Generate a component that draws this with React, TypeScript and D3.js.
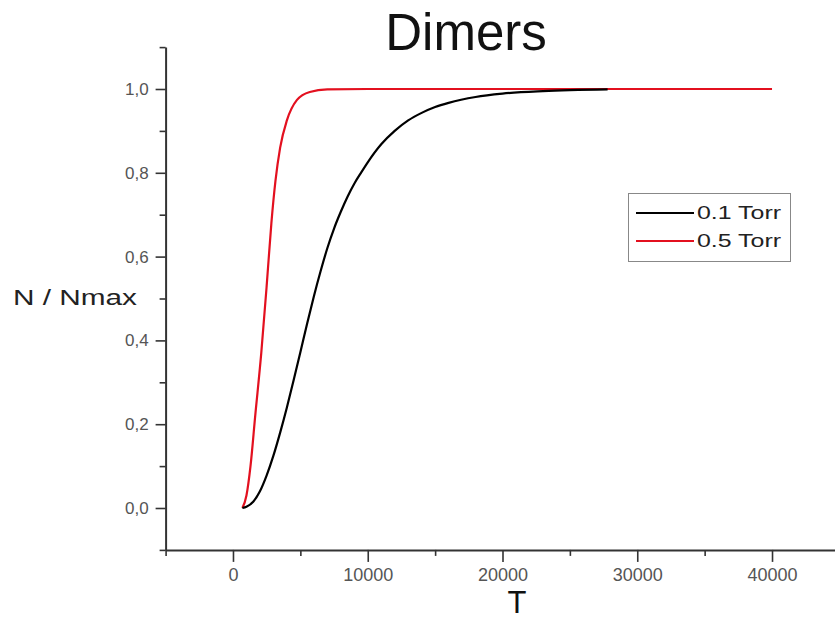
import React, { useEffect, useRef } from 'react';
import * as d3 from 'd3';

// 0.1 Torr series (black)
const t01 = [700, 1000, 1500, 2000, 2500, 3000, 3500, 4000, 4500, 5000, 5500, 6000, 6500, 7000, 7500, 8000, 8500, 9000, 9500, 10000, 11000, 12000, 13000, 14000, 15000, 16000, 18000, 20000, 23000, 27800];
const v01 = [0, 0.003, 0.015, 0.04, 0.078, 0.125, 0.18, 0.24, 0.305, 0.372, 0.44, 0.505, 0.565, 0.62, 0.667, 0.707, 0.743, 0.774, 0.8, 0.825, 0.868, 0.9, 0.925, 0.943, 0.957, 0.967, 0.981, 0.989, 0.995, 0.999];

// 0.5 Torr series (red)
const t05 = [700, 1000, 1300, 1650, 2100, 2500, 2850, 3150, 3500, 4000, 4750, 5700, 7000, 10000, 20000, 30000, 40000];
const v05 = [0, 0.03, 0.1, 0.22, 0.37, 0.53, 0.68, 0.78, 0.86, 0.925, 0.974, 0.993, 0.999, 1, 1, 1, 1];

const seriesNames = ['0.1 Torr', '0.5 Torr'];
const seriesColors = ['#000000', '#e3101f'];

const xMajor = [0, 10000, 20000, 30000, 40000];
const xMinor = [-5000, 5000, 15000, 25000, 35000];
const yMajor = [0, 0.2, 0.4, 0.6, 0.8, 1.0];
const yMinor = [-0.1, 0.1, 0.3, 0.5, 0.7, 0.9, 1.1];

const W = 835;
const H = 619;
const FONT = '"Liberation Sans", Arial, sans-serif';

export default function App() {
  const svgRef = useRef<SVGSVGElement>(null);

  useEffect(() => {
    if (!svgRef.current) return;
    const svg = d3.select(svgRef.current);
    svg.selectAll('*').remove();

    const x = d3.scaleLinear().domain([-5000, 45000]).range([165.6, 839.4]);
    const y = d3.scaleLinear().domain([-0.1, 1.1]).range([549.9, 47.1]);

    const comma = d3.formatLocale({ decimal: ',', thousands: '.', grouping: [3], currency: ['', ''] });

    // Title
    svg.append('text')
      .attr('x', 466)
      .attr('y', 50)
      .attr('text-anchor', 'middle')
      .style('font-family', FONT)
      .style('font-size', '51px')
      .attr('fill', '#111')
      .text('Dimers');

    // Axes
    const xAxis = svg.append('g').attr('transform', `translate(0,${y(-0.1)})`);
    xAxis.call(
      d3.axisBottom(x).tickValues(xMajor).tickSize(12).tickSizeOuter(0).tickPadding(6).tickFormat(d3.format('d') as any)
    );
    const xMinorAxis = svg.append('g').attr('transform', `translate(0,${y(-0.1)})`);
    xMinorAxis.call(d3.axisBottom(x).tickValues(xMinor).tickSize(6).tickSizeOuter(0).tickFormat(() => ''));
    xMinorAxis.select('.domain').remove();

    const yAxis = svg.append('g').attr('transform', `translate(${x(-5000)},0)`);
    yAxis.call(
      d3.axisLeft(y).tickValues(yMajor).tickSize(10).tickSizeOuter(0).tickPadding(7).tickFormat(comma.format('.1f') as any)
    );
    const yMinorAxis = svg.append('g').attr('transform', `translate(${x(-5000)},0)`);
    yMinorAxis.call(d3.axisLeft(y).tickValues(yMinor).tickSize(6).tickSizeOuter(0).tickFormat(() => ''));
    yMinorAxis.select('.domain').remove();

    svg.selectAll('.domain').attr('stroke', '#333').attr('stroke-width', 2);
    svg.selectAll('.tick line').attr('stroke', '#333').attr('stroke-width', 1.6);
    xAxis.selectAll('.tick text')
      .style('font-family', FONT)
      .style('font-size', '18px')
      .attr('fill', '#555');
    yAxis.selectAll('.tick text')
      .style('font-family', FONT)
      .style('font-size', '17px')
      .attr('fill', '#555');

    // Axis titles
    svg.append('text')
      .attr('x', 13)
      .attr('y', 305)
      .style('font-family', FONT)
      .style('font-size', '22px')
      .attr('fill', '#222')
      .attr('textLength', 124)
      .attr('lengthAdjust', 'spacingAndGlyphs')
      .text('N / Nmax');

    svg.append('text')
      .attr('x', 517)
      .attr('y', 613)
      .attr('text-anchor', 'middle')
      .style('font-family', FONT)
      .style('font-size', '31px')
      .attr('fill', '#111')
      .text('T');

    // Lines
    const line = d3
      .line<[number, number]>()
      .x(d => x(d[0]))
      .y(d => y(d[1]))
      .curve(d3.curveMonotoneX);

    const data01 = t01.map((t, i) => [t, v01[i]] as [number, number]);
    const data05 = t05.map((t, i) => [t, v05[i]] as [number, number]);

    svg.append('path')
      .datum(data05)
      .attr('fill', 'none')
      .attr('stroke', seriesColors[1])
      .attr('stroke-width', 2.2)
      .attr('d', line);

    svg.append('path')
      .datum(data01)
      .attr('fill', 'none')
      .attr('stroke', seriesColors[0])
      .attr('stroke-width', 2.2)
      .attr('d', line);

    // Legend
    const legend = svg.append('g');
    legend.append('rect')
      .attr('x', 628.5)
      .attr('y', 193.5)
      .attr('width', 162)
      .attr('height', 68)
      .attr('fill', 'white')
      .attr('stroke', '#888')
      .attr('stroke-width', 1);

    seriesNames.forEach((name, i) => {
      const ly = 213 + i * 28;
      legend.append('line')
        .attr('x1', 636)
        .attr('x2', 694)
        .attr('y1', ly)
        .attr('y2', ly)
        .attr('stroke', seriesColors[i])
        .attr('stroke-width', 2.2);
      legend.append('text')
        .attr('x', 697)
        .attr('y', ly + 6)
        .style('font-family', FONT)
        .style('font-size', '18px')
        .attr('fill', '#222')
        .attr('textLength', 84)
        .attr('lengthAdjust', 'spacingAndGlyphs')
        .text(name);
    });
  }, []);

  return (
    <svg
      ref={svgRef}
      width={W}
      height={H}
      style={{ position: 'absolute', left: 0, top: 0, background: 'white' }}
    />
  );
}
